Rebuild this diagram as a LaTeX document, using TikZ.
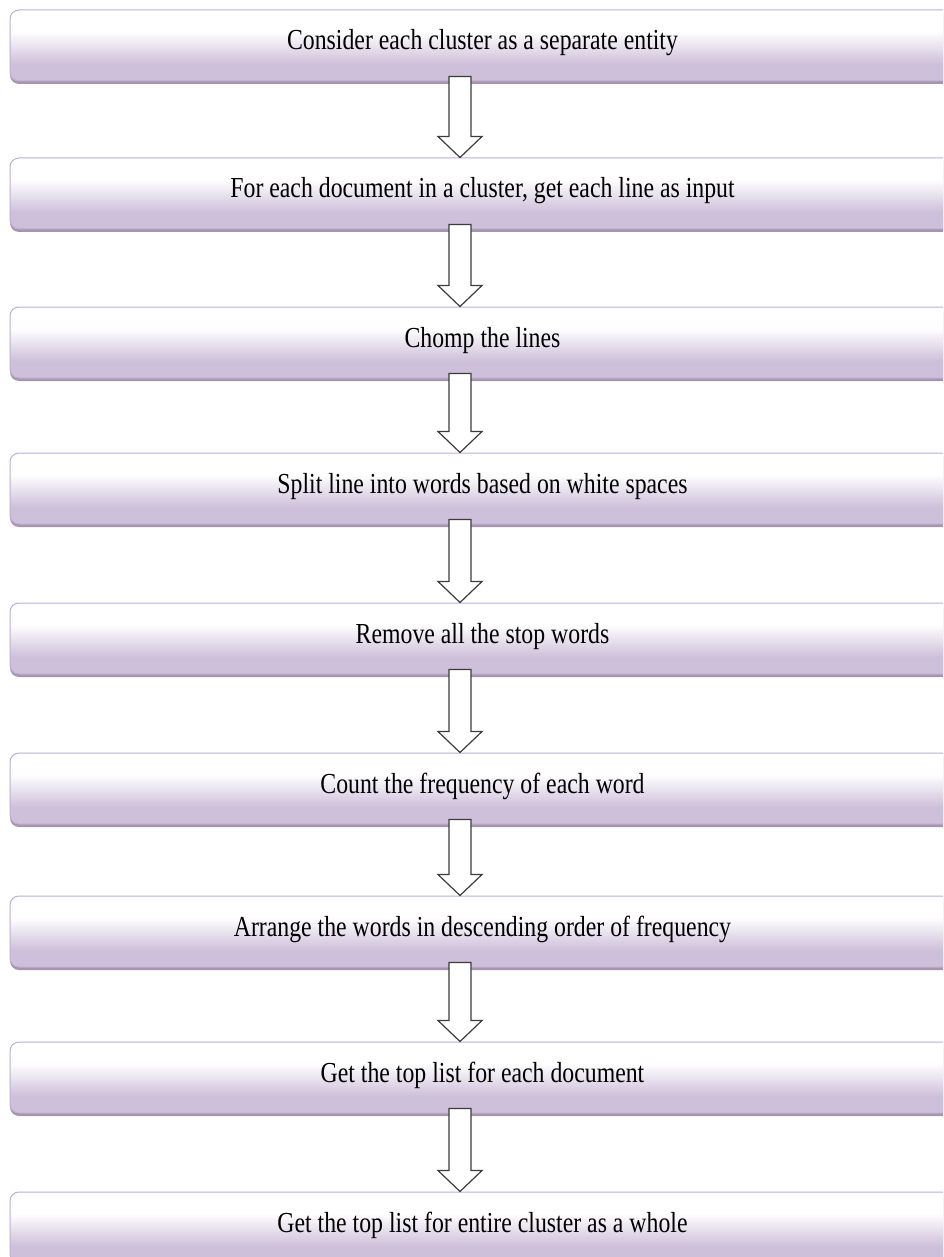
\documentclass[tikz,border=0pt]{standalone}
\usepackage{fontspec}
\setmainfont{Liberation Serif}[FakeStretch=0.82]
\usetikzlibrary{calc,shadows}
\definecolor{boxlav}{RGB}{206,192,218}
\definecolor{boxline}{RGB}{190,174,212}
\definecolor{boxshadow}{RGB}{165,150,172}
\definecolor{arrowline}{RGB}{60,60,60}
\pgfdeclareverticalshading{boxshade}{100bp}{color(0bp)=(boxlav); color(37bp)=(boxlav); color(60bp)=(white); color(100bp)=(white)}
\begin{document}
\begin{tikzpicture}[
			x=1pt, y=-1pt,
			stepbox/.style={draw=boxline, line width=1pt, rounded corners=9pt,
				shading=boxshade, minimum width=945pt, minimum height=71pt,
				text height=20pt, text depth=11pt,
				font=\fontsize{29}{33}\selectfont,
				drop shadow={shadow xshift=0pt, shadow yshift=-3pt, fill=boxshadow, opacity=1}},
			blockarrow/.style={draw=arrowline, line width=1.2pt, fill=white, line join=miter}
			]
			\useasboundingbox (0,0) rectangle (943,1257);
			\clip (0,0) rectangle (943,1257);
			\coordinate (axis) at (460,0);
			\node [stepbox] (s1) at (482.5,45.5) {Consider each cluster as a separate entity};
			\node [stepbox] (s2) at (482.5,193.5) {For each document in a cluster, get each line as input};
			\node [stepbox] (s3) at (482.5,342.5) {Chomp the lines};
			\node [stepbox] (s4) at (482.5,488.5) {Split line into words based on white spaces};
			\node [stepbox] (s5) at (482.5,638.5) {Remove all the stop words};
			\node [stepbox] (s6) at (482.5,788.5) {Count the frequency of each word};
			\node [stepbox] (s7) at (482.5,931.5) {Arrange the words in descending order of frequency};
			\node [stepbox] (s8) at (482.5,1077.5) {Get the top list for each document};
			\node [stepbox] (s9) at (482.5,1227.5) {Get the top list for entire cluster as a whole};
			% hollow arrows between the steps
			\foreach \a/\b in {s1/s2,s2/s3,s3/s4,s4/s5,s5/s6,s6/s7,s7/s8,s8/s9} {
				\coordinate (top) at (\a.south -| axis);
				\coordinate (tip) at (\b.north -| axis);
				\draw [blockarrow] ($(top)+(-11,-5)$) -- ($(tip)+(-11,-21)$) -- ($(tip)+(-22,-21)$)
					-- (tip) -- ($(tip)+(22,-21)$) -- ($(tip)+(11,-21)$) -- ($(top)+(11,-5)$) -- cycle;
			}
		\end{tikzpicture}
\end{document}
